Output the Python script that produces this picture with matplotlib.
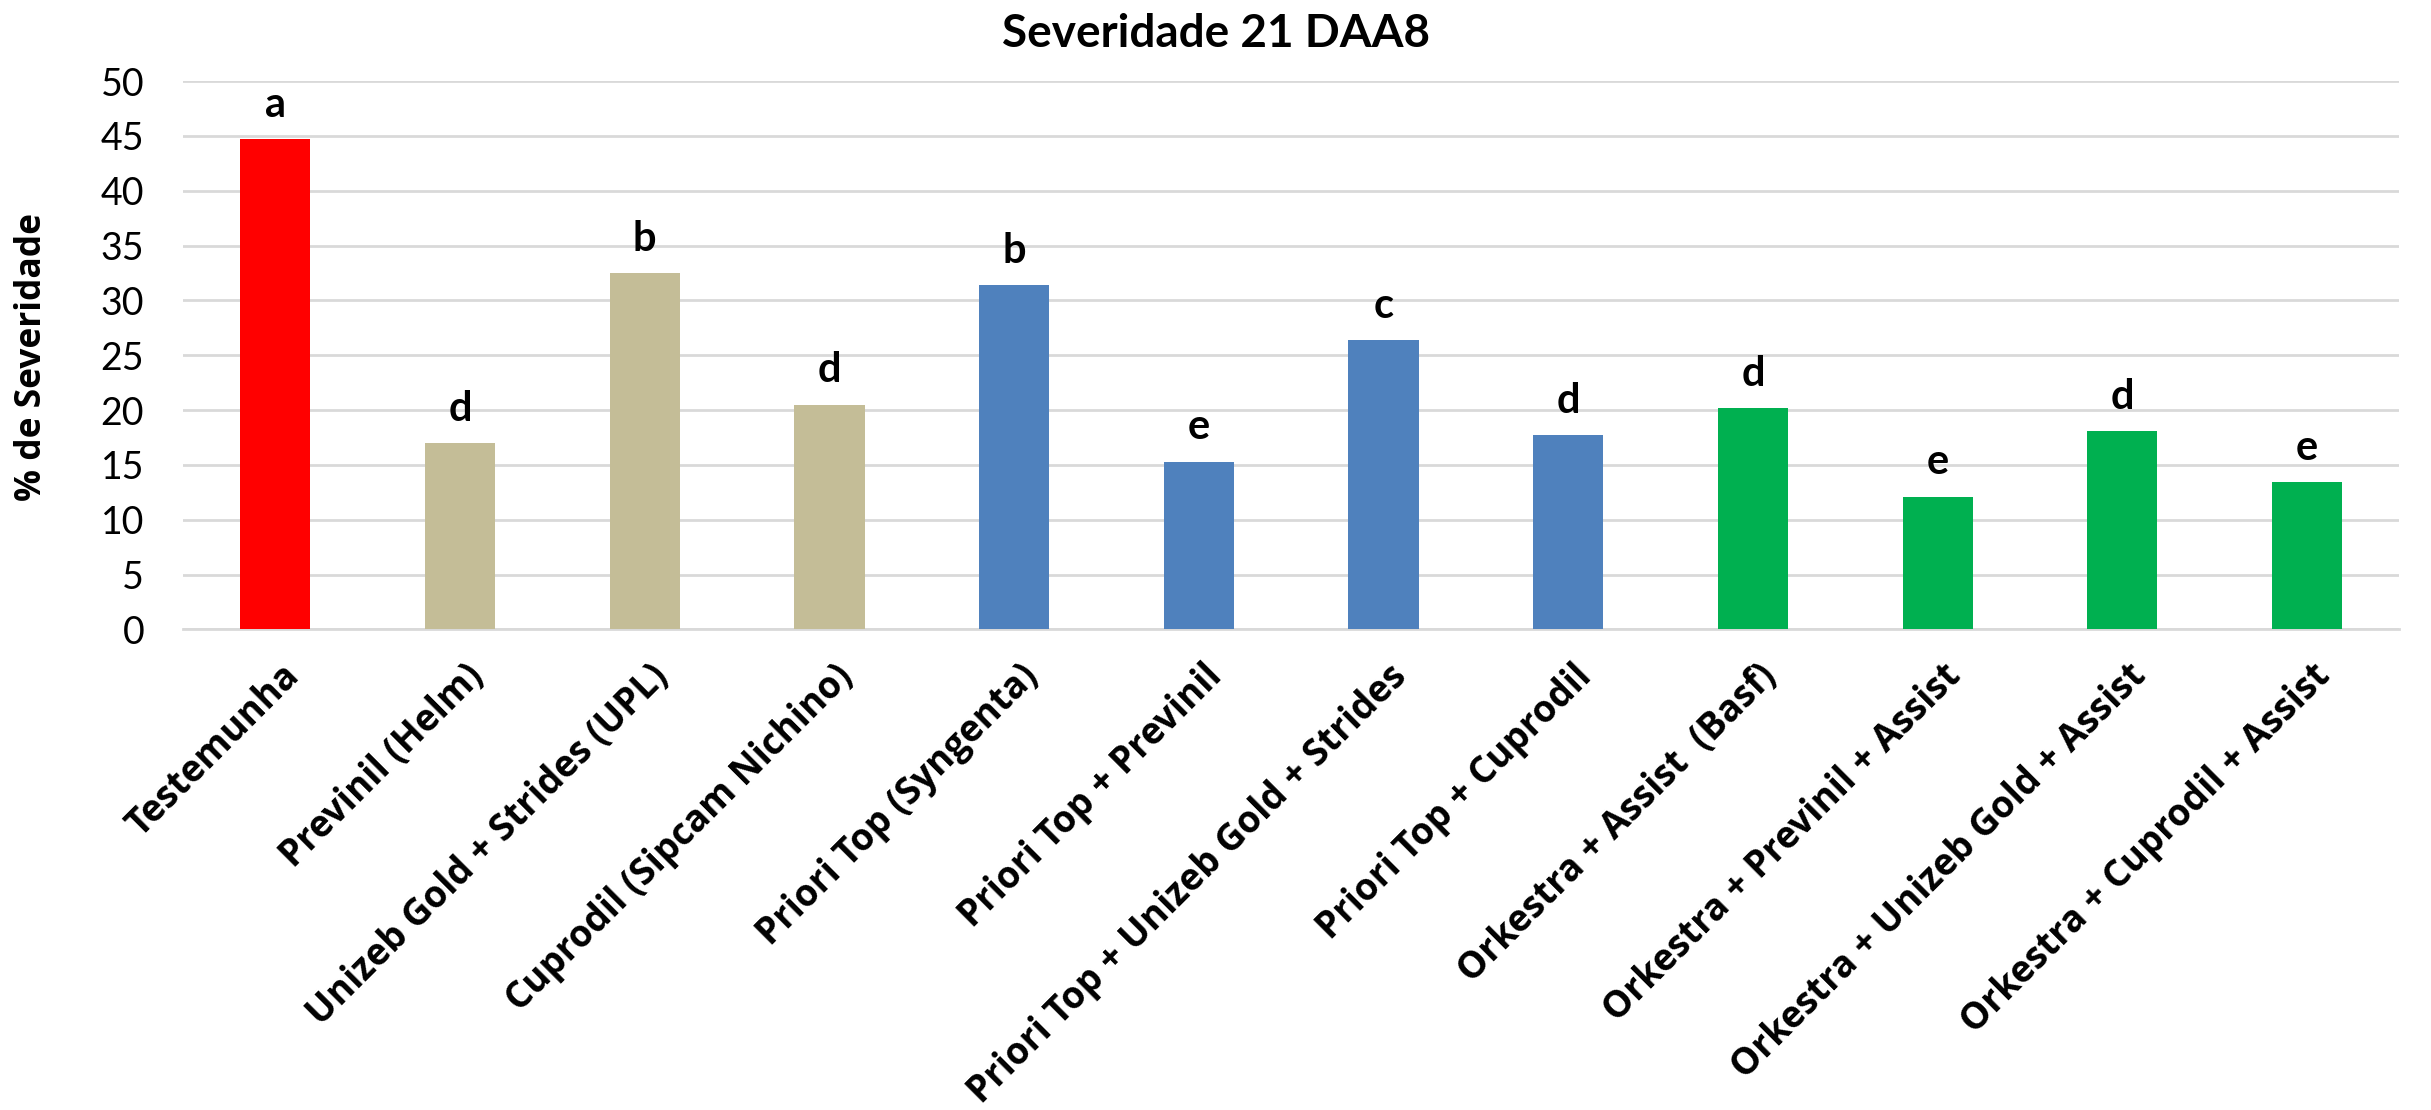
import matplotlib
matplotlib.use("Agg")
import matplotlib.pyplot as plt
from matplotlib.transforms import ScaledTranslation

categories = [
    "Testemunha",
    "Previnil (Helm)",
    "Unizeb Gold + Strides (UPL)",
    "Cuprodil (Sipcam Nichino)",
    "Priori Top (Syngenta)",
    "Priori Top + Previnil",
    "Priori Top + Unizeb Gold + Strides",
    "Priori Top + Cuprodil",
    "Orkestra + Assist  (Basf)",
    "Orkestra + Previnil + Assist",
    "Orkestra + Unizeb Gold + Assist",
    "Orkestra + Cuprodil + Assist",
]
severity = [44.7, 17.0, 32.5, 20.5, 31.4, 15.3, 26.4, 17.7, 20.2, 12.1, 18.1, 13.4]
letters = ["a", "d", "b", "d", "b", "e", "c", "d", "d", "e", "d", "e"]
groups = ["control", "tan", "tan", "tan", "blue", "blue", "blue", "blue",
          "green", "green", "green", "green"]
group_colors = {"control": "#FF0000", "tan": "#C4BD97", "blue": "#4F81BD", "green": "#00B050"}
yticks = [0, 5, 10, 15, 20, 25, 30, 35, 40, 45, 50]

title = "Severidade 21 DAA8"
ylabel = "% de Severidade"

fig = plt.figure(figsize=(24.31, 11.10), dpi=100)
ax = fig.add_axes([0.0753, 0.433, 0.9117, 0.494])

x = list(range(len(categories)))
colors = [group_colors[g] for g in groups]
ax.bar(x, severity, width=0.38, color=colors, zorder=3)

for xi, v, lt in zip(x, severity, letters):
    ax.annotate(lt, (xi, v), xytext=(0, 16), textcoords="offset points",
                ha="center", va="baseline", fontsize=30, fontweight="bold",
                family="Lato", color="black")

ax.set_xlim(-0.5, len(categories) - 0.5)
ax.set_ylim(0, 50)
ax.set_yticks(yticks)
ax.set_yticklabels([str(t) for t in yticks], fontsize=27, family="Lato")
ax.yaxis.grid(True, color="#D9D9D9", linewidth=2, zorder=0)
ax.set_axisbelow(True)
for s in ["top", "right", "left"]:
    ax.spines[s].set_visible(False)
ax.spines["bottom"].set_color("#D9D9D9")
ax.spines["bottom"].set_linewidth(2)
ax.tick_params(axis="both", length=0)
ax.tick_params(axis="y", pad=28)

ax.set_xticks(x)
ax.set_xticklabels(categories, rotation=45, ha="right", va="center",
                   rotation_mode="anchor", fontsize=26.5, fontweight="bold",
                   family="Open Sans")
ax.tick_params(axis="x", pad=24)
shift = ScaledTranslation(0.18, -0.08, fig.dpi_scale_trans)
for lbl in ax.get_xticklabels():
    lbl.set_transform(lbl.get_transform() + shift)

fig.text(0.0132, 0.678, ylabel, rotation=90, ha="center", va="center",
         fontsize=25.5, fontweight="bold", family="Open Sans")

fig.text(0.5, 0.958, title, ha="center", va="baseline",
         fontsize=33, fontweight="bold", family="Lato")

fig.savefig("out.png", dpi=100, facecolor="white")
